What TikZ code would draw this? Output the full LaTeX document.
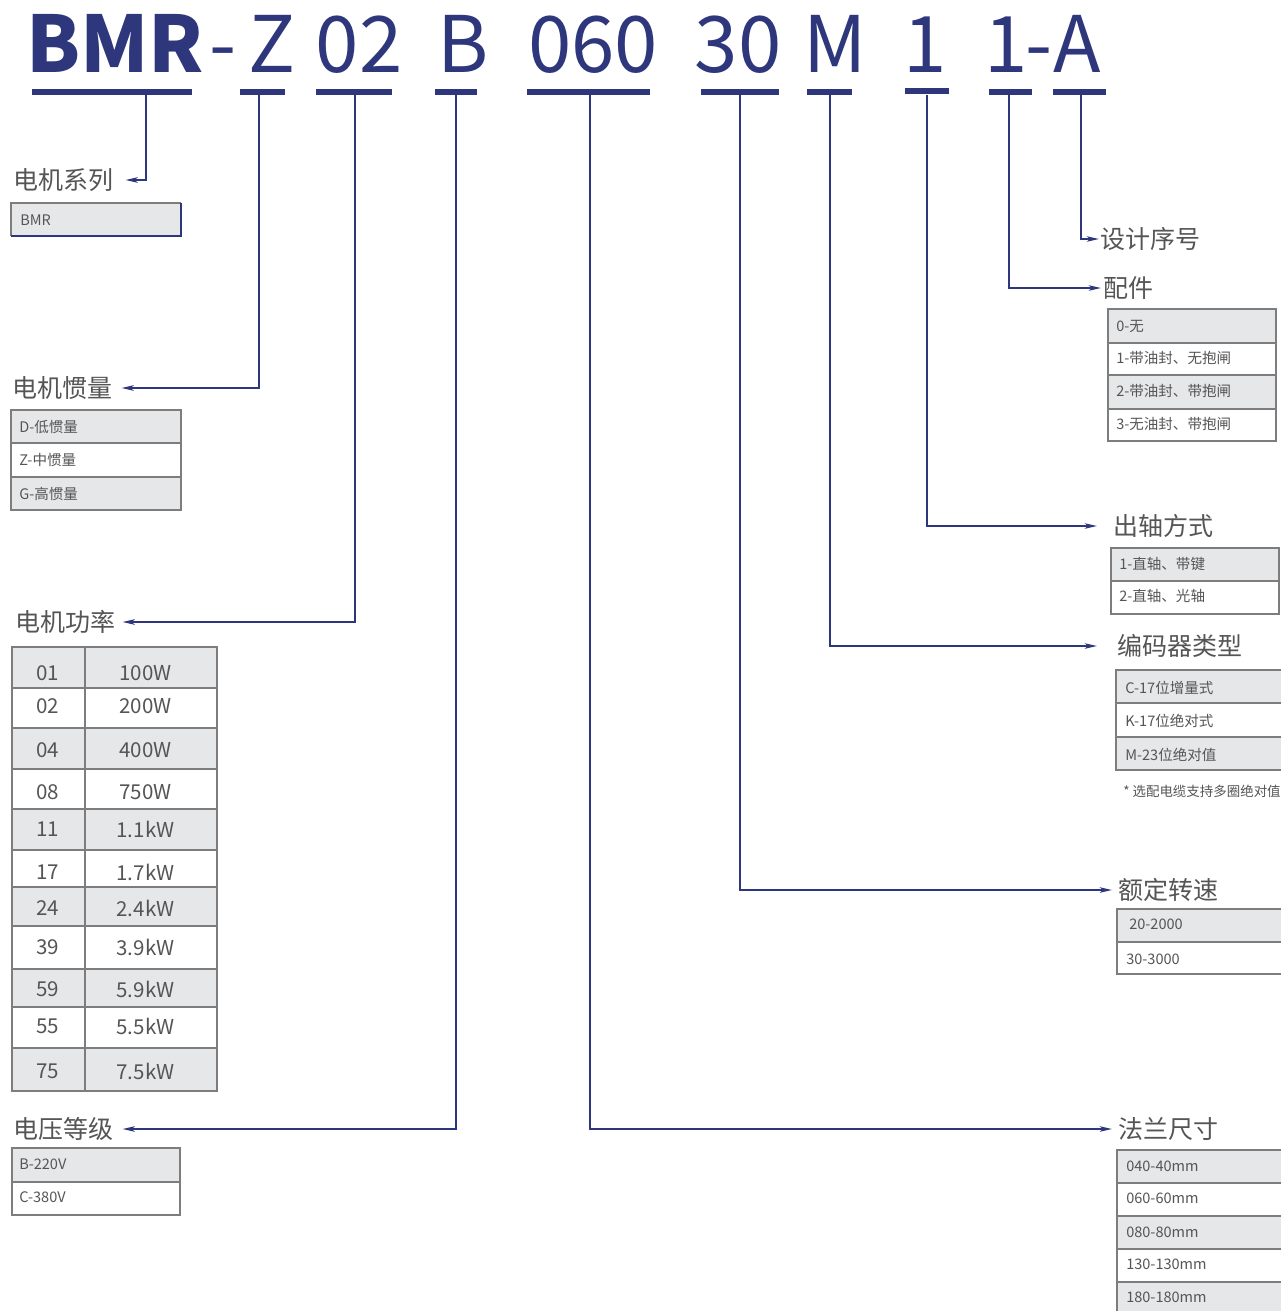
\documentclass[tikz,border=0pt]{standalone}
\usepackage{fontspec}
\setmainfont{Noto Sans CJK SC}
\usetikzlibrary{arrows.meta}
\definecolor{navy}{RGB}{46,54,124}
\definecolor{txtgray}{RGB}{85,85,85}
\definecolor{cellfill}{RGB}{230,231,233}
\definecolor{cellline}{RGB}{125,125,125}
\newcommand{\cellbox}[5]{\filldraw[fill=#5,draw=cellline,line width=1pt] (#1,#2) rectangle (#3,#4);}
\begin{document}
\begin{tikzpicture}[x=0.75pt,y=-0.75pt,
  title/.style={text=navy, font=\fontsize{58.5pt}{60pt}\selectfont, inner sep=0, anchor=base},
  ul/.style={fill=navy, inner sep=0, minimum height=5pt},
  conn/.style={draw=navy, line width=1.5pt, -{Stealth[length=9pt,width=4pt,inset=2pt]}},
  lbl/.style={text=txtgray, font=\fontsize{18.75pt}{20pt}\selectfont, inner sep=0, anchor=west},
  small/.style={text=txtgray, font=\fontsize{10.9pt}{12pt}\selectfont, inner sep=0, anchor=west},
  num/.style={text=txtgray, font=\fontsize{15.4pt}{16pt}\selectfont, inner sep=0},
  note/.style={text=txtgray, font=\fontsize{10.1pt}{11pt}\selectfont, inner sep=0, anchor=west}]
\useasboundingbox (0,0) rectangle (1281,1311);
\clip (0,0) rectangle (1281,1311);
\fill[white] (0,0) rectangle (1281,1311);

% ---- title code ----
\node[title, font=\fontsize{58.5pt}{60pt}\selectfont\bfseries] (cBMR) at (115,72) {BMR};
\node[title] (cDash) at (223,72) {-};
\node[title] (cZ) at (272,72) {Z};
\node[title] (c02) at (359,72) {02};
\node[title] (cB) at (463,72) {B};
\node[title] (c060) at (593,72) {060};
\node[title] (c30) at (738,72) {30};
\node[title] (cM) at (835,72) {M};
\node[title] (c1a) at (925,72) {1};
\node[title] (c1b) at (1006,72) {1};
\node[title] (cDash2) at (1039,72) {-};
\node[title] (cA) at (1077,72) {A};

% ---- underlines ----
\node[ul, minimum width=120pt] (uBMR) at (112,92) {};
\node[ul, minimum width=33.75pt] (uZ) at (262.5,92) {};
\node[ul, minimum width=57pt] (u02) at (354,92) {};
\node[ul, minimum width=31.5pt] (uB) at (456,92) {};
\node[ul, minimum width=92.25pt] (u060) at (588.5,92) {};
\node[ul, minimum width=58.5pt] (u30) at (740,92) {};
\node[ul, minimum width=33.75pt] (uM) at (829.5,92) {};
\node[ul, minimum width=33pt] (u1a) at (927,91) {};
\node[ul, minimum width=32.25pt] (u1b) at (1010.5,92) {};
\node[ul, minimum width=39.75pt] (uA) at (1079.5,92) {};

\coordinate (sBMR) at (146,95);
\coordinate (sZ) at (259,95);
\coordinate (s02) at (355,95);
\coordinate (sB) at (456,95);
\coordinate (s060) at (590,95);
\coordinate (s30) at (740,95);
\coordinate (sM) at (830,95);
\coordinate (s1a) at (927,95);
\coordinate (s1b) at (1009,95);
\coordinate (sA) at (1081,95);

% ---- labels ----
\node[lbl] (lSeries) at (13,180) {电机系列};
\node[lbl] (lInertia) at (12,388) {电机惯量};
\node[lbl] (lPower) at (15,622) {电机功率};
\node[lbl] (lVolt) at (13,1129) {电压等级};
\node[lbl] (lDesign) at (1100,239) {设计序号};
\node[lbl] (lAcc) at (1103,288) {配件};
\node[lbl] (lShaft) at (1113,526) {出轴方式};
\node[lbl] (lEnc) at (1117,646) {编码器类型};
\node[lbl] (lSpeed) at (1118,890) {额定转速};
\node[lbl] (lFlange) at (1118,1129) {法兰尺寸};

% ---- connectors ----
\draw[conn] (sBMR) |- ([xshift=9pt]lSeries.east);
\draw[conn] (sZ) |- ([xshift=6.75pt]lInertia.east);
\draw[conn] (s02) |- ([xshift=5.25pt]lPower.east);
\draw[conn] (sB) |- ([xshift=6.75pt]lVolt.east);
\draw[conn] (sA) |- ([xshift=-0.75pt]lDesign.west);
\draw[conn] (s1b) |- ([xshift=-1.5pt]lAcc.west);
\draw[conn] (s1a) |- ([xshift=-12pt]lShaft.west);
\draw[conn] (sM) |- ([xshift=-15pt]lEnc.west);
\draw[conn] (s30) |- ([xshift=-4.5pt]lSpeed.west);
\draw[conn] (s060) |- ([xshift=-4.5pt]lFlange.west);

% ---- series table ----
\fill[cellfill] (11,203) rectangle (181,236);
\draw[cellline, line width=1pt] (11,236) -- (11,203) -- (181,203);
\draw[navy, line width=1.5pt] (181,203) -- (181,236) -- (11,236);
\node[small] (tBMR) at (20,220) {BMR};

% ---- inertia table ----
\cellbox{11}{410}{181}{443}{cellfill}
\cellbox{11}{443}{181}{477}{white}
\cellbox{11}{477}{181}{510}{cellfill}
\node[small] (tD) at (19,427) {D-低惯量};
\node[small] (tZ) at (19,460) {Z-中惯量};
\node[small] (tG) at (19,494) {G-高惯量};

% ---- power table ----
\cellbox{12}{647}{217}{688}{cellfill}
\cellbox{12}{688}{217}{728}{white}
\cellbox{12}{728}{217}{769}{cellfill}
\cellbox{12}{769}{217}{809}{white}
\cellbox{12}{809}{217}{850}{cellfill}
\cellbox{12}{850}{217}{887}{white}
\cellbox{12}{887}{217}{926}{cellfill}
\cellbox{12}{926}{217}{969}{white}
\cellbox{12}{969}{217}{1007}{cellfill}
\cellbox{12}{1007}{217}{1048}{white}
\cellbox{12}{1048}{217}{1091}{cellfill}
\draw[cellline, line width=1pt] (85,647) -- (85,1091);
\foreach \c/\v/\y/\k in {01/100W/673/a, 02/200W/706/b, 04/400W/750/c, 08/750W/792/d, 11/1.1kW/829/e, 17/1.7kW/872/f, 24/2.4kW/908/g, 39/3.9kW/947/h, 59/5.9kW/989/i, 55/5.5kW/1026/j, 75/7.5kW/1071/k}{
  \node[num] (pc\k) at (47.5,\y) {\c};
  \node[num] (pv\k) at (145.5,\y) {\v};
}

% ---- voltage table ----
\cellbox{12}{1148}{180}{1182}{cellfill}
\cellbox{12}{1182}{180}{1215}{white}
\node[small] (tB220) at (19,1164) {B-220V};
\node[small] (tC380) at (19,1197) {C-380V};

% ---- accessory table ----
\cellbox{1108}{309}{1276}{343}{cellfill}
\cellbox{1108}{343}{1276}{375}{white}
\cellbox{1108}{375}{1276}{409}{cellfill}
\cellbox{1108}{409}{1276}{441}{white}
\node[small] (ta0) at (1116,326) {0-无};
\node[small] (ta1) at (1116,358) {1-带油封、无抱闸};
\node[small] (ta2) at (1116,391) {2-带油封、带抱闸};
\node[small] (ta3) at (1116,424) {3-无油封、带抱闸};

% ---- shaft table ----
\cellbox{1111}{548}{1279}{581}{cellfill}
\cellbox{1111}{581}{1279}{614}{white}
\node[small] (ts1) at (1119,564) {1-直轴、带键};
\node[small] (ts2) at (1119,596) {2-直轴、光轴};

% ---- encoder table ----
\cellbox{1116}{670}{1300}{703}{cellfill}
\cellbox{1116}{703}{1300}{737}{white}
\cellbox{1116}{737}{1300}{770}{cellfill}
\node[small] (teC) at (1125,688) {C-17位增量式};
\node[small] (teK) at (1125,721) {K-17位绝对式};
\node[small] (teM) at (1125,755) {M-23位绝对值};
\node[note] (tnote) at (1123,791) {* 选配电缆支持多圈绝对值};

% ---- speed table ----
\cellbox{1117}{909}{1300}{942}{cellfill}
\cellbox{1117}{942}{1300}{974}{white}
\node[small] (tsp20) at (1129,924) {20-2000};
\node[small] (tsp30) at (1126,959) {30-3000};

% ---- flange table ----
\cellbox{1117}{1150}{1300}{1183}{cellfill}
\cellbox{1117}{1183}{1300}{1216}{white}
\cellbox{1117}{1216}{1300}{1249}{cellfill}
\cellbox{1117}{1249}{1300}{1282}{white}
\cellbox{1117}{1282}{1300}{1320}{cellfill}
\node[small] (tf40) at (1126,1166) {040-40mm};
\node[small] (tf60) at (1126,1198) {060-60mm};
\node[small] (tf80) at (1126,1232) {080-80mm};
\node[small] (tf130) at (1126,1264) {130-130mm};
\node[small] (tf180) at (1126,1297) {180-180mm};
\end{tikzpicture}
\end{document}
